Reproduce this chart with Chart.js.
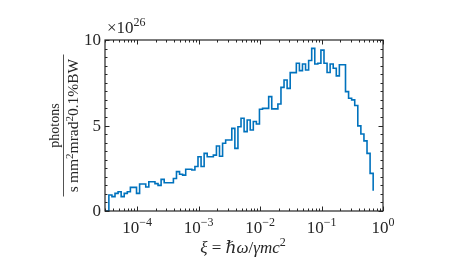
<!DOCTYPE html>
<html>
<head>
<meta charset="utf-8">
<script src="https://cdn.jsdelivr.net/npm/chart.js@4.4.1/dist/chart.umd.min.js"></script>
<style>
  html, body { margin: 0; padding: 0; background: #fff; }
  #wrap { width: 469px; height: 271px; }
</style>
</head>
<body>
<div id="wrap"><canvas id="chart" width="469" height="271"></canvas></div>
<script>
// Spektrum (satuan 1e26), bin lebar 0.05 dekade mulai dari 10^-4.46
const binStartExp = -4.46;
const binStepExp = 0.05;
const spectrum = [
    0.94, 0.84, 1.03, 1.13, 0.84, 1.03, 1.13, 1.38, 1.38, 1.03,
    1.58, 1.58, 1.40, 1.71, 1.71, 1.60, 1.50, 1.85, 1.65, 1.65,
    1.65, 1.90, 2.30, 2.15, 2.10, 2.44, 2.44, 2.40, 2.60, 3.17,
    2.60, 3.37, 3.17, 3.17, 3.27, 3.80, 3.20, 3.96, 4.15, 4.15,
    4.83, 3.66, 4.93, 5.42, 4.64, 5.32, 4.74, 5.23, 5.09, 5.95,
    6.00, 6.00, 6.69, 5.97, 5.97, 6.26, 7.23, 7.66, 7.17, 8.09,
    8.09, 8.64, 8.21, 8.60, 8.25, 8.80, 9.51, 8.60, 8.64, 9.41,
    8.64, 8.10, 8.60, 8.35, 7.90, 8.55, 8.55, 6.98, 6.59, 6.50,
    6.17, 4.98, 4.50, 4.10, 3.37, 2.20
];
const lastEdgeValue = 1.18;   // titik akhir (garis turun vertikal)

// Label sumbu
const xMin = 3e-5, xMax = 1;
const xTickExps = [-4, -3, -2, -1, 0];
const yTickValues = [0, 5, 10];
const yMinorStep = 0.5;

const textColor = "#262626";
const serif = "'Liberation Serif', 'DejaVu Serif', serif";

// Titik-titik tangga
const points = [{ x: xMin, y: 0 }];
spectrum.forEach((v, i) => {
    points.push({ x: Math.pow(10, binStartExp + i * binStepExp), y: v });
});
points.push({ x: Math.pow(10, binStartExp + spectrum.length * binStepExp), y: lastEdgeValue });

// Gambar teks berurutan dengan superskrip
function drawRuns(ctx, runs, x, y, align) {
    let total = 0;
    runs.forEach(r => {
        ctx.font = r.font;
        r.w = ctx.measureText(r.t).width;
        total += r.w;
    });
    let cx = align === "center" ? x - total / 2 : (align === "right" ? x - total : x);
    ctx.textAlign = "left";
    ctx.textBaseline = "alphabetic";
    runs.forEach(r => {
        ctx.font = r.font;
        ctx.fillText(r.t, cx, y + (r.dy || 0));
        cx += r.w;
    });
}

const axesPlugin = {
    id: "matlabAxes",
    afterDraw(chart) {
        const ctx = chart.ctx;
        const area = chart.chartArea;
        const xs = chart.scales.x;
        const ys = chart.scales.y;
        ctx.save();
        ctx.strokeStyle = textColor;
        ctx.fillStyle = textColor;

        // kotak
        ctx.lineWidth = 1.2;
        ctx.strokeRect(area.left, area.top, area.right - area.left, area.bottom - area.top);

        // tick x (log)
        ctx.lineWidth = 1;
        ctx.beginPath();
        for (let e = -5; e <= 0; e++) {
            for (let m = 1; m <= 9; m++) {
                const v = m * Math.pow(10, e);
                if (v < xMin || v > xMax * 1.0001) continue;
                const px = Math.round(xs.getPixelForValue(v)) + 0.5;
                const len = m === 1 ? 4.5 : 2.5;
                ctx.moveTo(px, area.bottom);
                ctx.lineTo(px, area.bottom - len);
                ctx.moveTo(px, area.top);
                ctx.lineTo(px, area.top + len);
            }
        }
        // tick y
        for (let v = 0; v <= 10.0001; v += yMinorStep) {
            const py = Math.round(ys.getPixelForValue(v)) + 0.5;
            const len = yTickValues.includes(Math.round(v * 10) / 10) ? 4.5 : 2.5;
            ctx.moveTo(area.left, py);
            ctx.lineTo(area.left + len, py);
            ctx.moveTo(area.right, py);
            ctx.lineTo(area.right - len, py);
        }
        ctx.stroke();

        // label tick y
        ctx.font = "17px " + serif;
        ctx.textAlign = "right";
        ctx.textBaseline = "middle";
        yTickValues.forEach(v => {
            ctx.fillText(String(v), area.left - 4, ys.getPixelForValue(v) + 1);
        });

        // label tick x
        xTickExps.forEach(e => {
            const px = xs.getPixelForValue(Math.pow(10, e));
            const sup = e < 0 ? "\u2212" + Math.abs(e) : String(e);
            drawRuns(ctx, [
                { t: "10", font: "17px " + serif },
                { t: sup, font: "12px " + serif, dy: -7 }
            ], px, area.bottom + 22, "center");
        });

        // faktor skala
        drawRuns(ctx, [
            { t: "\u00d710", font: "17px " + serif },
            { t: "26", font: "12px " + serif, dy: -7 }
        ], area.left + 2, area.top - 7, "left");

        // judul sumbu x
        const it = "italic 17px " + serif;
        const rm = "17px " + serif;
        drawRuns(ctx, [
            { t: "\u03be", font: it },
            { t: " = ", font: rm },
            { t: "\u210f\u03c9", font: it },
            { t: "/", font: rm },
            { t: "\u03b3mc", font: it },
            { t: "2", font: "12px " + serif, dy: -7 }
        ], (area.left + area.right) / 2 - 1, area.bottom + 42, "center");

        // judul sumbu y (pecahan, diputar)
        const cy = (area.top + area.bottom) / 2;
        ctx.translate(63.5, cy);
        ctx.rotate(-Math.PI / 2);
        ctx.lineWidth = 0.8;
        ctx.beginPath();
        ctx.moveTo(-71, 0);
        ctx.lineTo(71, 0);
        ctx.stroke();
        drawRuns(ctx, [{ t: "photons", font: "14px " + serif }], 0, -5, "center");
        drawRuns(ctx, [
            { t: "s\u2009mm", font: "15.5px " + serif },
            { t: "2", font: "11px " + serif, dy: -5 },
            { t: "mrad", font: "15.5px " + serif },
            { t: "2", font: "11px " + serif, dy: -5 },
            { t: "0.1%BW", font: "15.5px " + serif }
        ], 0, 14.5, "center");
        ctx.restore();
    }
};

const ctx = document.getElementById("chart").getContext("2d");
const chart = new Chart(ctx, {
    type: "line",
    data: {
        datasets: [{
            data: points,
            borderColor: "#0072BD",
            borderWidth: 1.6,
            stepped: "before",
            pointRadius: 0,
            fill: false
        }]
    },
    options: {
        responsive: false,
        animation: false,
        devicePixelRatio: 1,
        layout: { padding: { left: 105, right: 86, top: 40, bottom: 60 } },
        plugins: { legend: { display: false }, tooltip: { enabled: false } },
        scales: {
            x: { type: "logarithmic", min: xMin, max: xMax, display: false },
            y: { type: "linear", min: 0, max: 10, display: false }
        }
    },
    plugins: [axesPlugin]
});
</script>
</body>
</html>
